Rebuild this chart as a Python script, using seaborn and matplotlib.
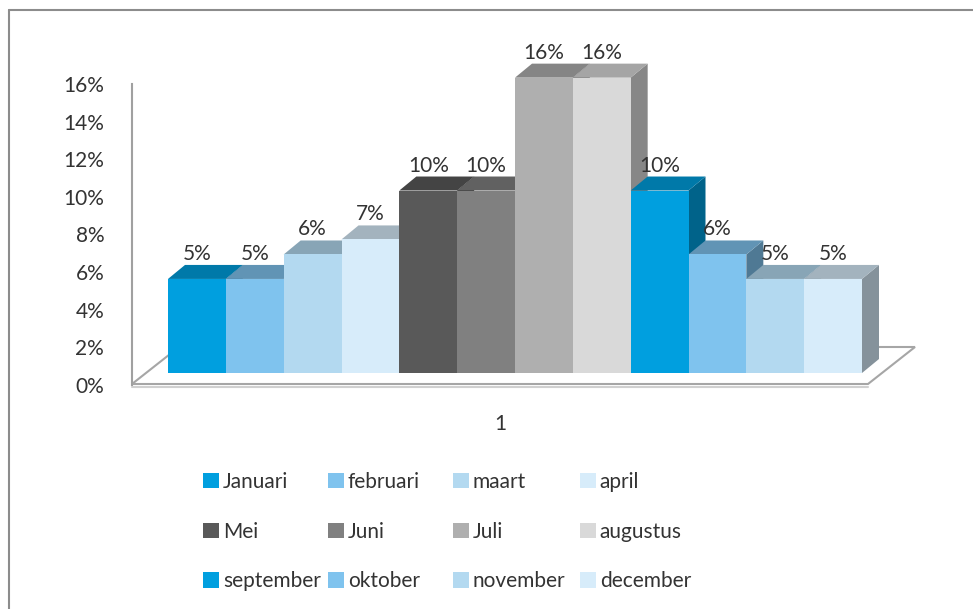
import matplotlib.colors as mcolors
import matplotlib.pyplot as plt
import pandas as pd
import seaborn as sns
from matplotlib.lines import Line2D
from matplotlib.patches import Polygon

# Data
months = [
    "Januari", "februari", "maart", "april",
    "Mei", "Juni", "Juli", "augustus",
    "september", "oktober", "november", "december",
]
values = [5.0, 5.0, 6.3, 7.1, 9.7, 9.7, 15.7, 15.7, 9.7, 6.3, 5.0, 5.0]
colors = [
    "#009FDF", "#7FC3EE", "#B3D9F0", "#D7ECFA",
    "#595959", "#808080", "#AFAFAF", "#D9D9D9",
    "#009FDF", "#7FC3EE", "#B3D9F0", "#D7ECFA",
]
category = ["1"]
y_ticks = [0, 2, 4, 6, 8, 10, 12, 14, 16]

df = pd.DataFrame({"cat": category * len(months), "month": months, "value": values})

W, H = 973, 609


def fx(x):
    return x / W


def fy(y):
    return 1 - y / H


def shade(c, f):
    r, g, b = mcolors.to_rgb(c)
    return (r * f, g * f, b * f)


sns.set_theme(style="white")
plt.rcParams["font.family"] = ["Lato", "DejaVu Sans"]
FS = 15
TXT = "#333333"

fig = plt.figure(figsize=(W / 100, H / 100), dpi=100)

# back wall axis: tick labels, vertical line, category label
ax_wall = fig.add_axes([fx(132), fy(385), fx(868) - fx(132), fy(84) - fy(385)])
ax_wall.set_ylim(0, 16)
ax_wall.set_xlim(0, 1)
ax_wall.set_yticks(y_ticks, [f"{t}%" for t in y_ticks])
ax_wall.set_xticks([0.5], category)
ax_wall.tick_params(axis="y", length=0, pad=20, labelsize=FS, labelcolor=TXT)
ax_wall.tick_params(axis="x", length=0, pad=21, labelsize=FS, labelcolor=TXT)
for s in ["top", "right", "bottom"]:
    ax_wall.spines[s].set_visible(False)
ax_wall.spines["left"].set_color("#A0A0A0")
ax_wall.spines["left"].set_linewidth(1.5)
ax_wall.patch.set_alpha(0)

# floor
floor = Polygon(
    [(fx(132), fy(384)), (fx(868), fy(384)), (fx(915), fy(347)), (fx(179), fy(347))],
    closed=True, facecolor="white", edgecolor="#A6A6A6", linewidth=1.5,
    transform=fig.transFigure, clip_on=False,
)
ax_wall.add_artist(floor)
ax_wall.add_artist(Line2D([fx(132), fx(868)], [fy(387), fy(387)], color="#D0D0D0",
                          linewidth=1.5, transform=fig.transFigure, clip_on=False))

# bars
ax = fig.add_axes([fx(168), fy(373), fx(862) - fx(168), fy(72) - fy(373)])
sns.barplot(
    data=df, x="cat", y="value", hue="month", hue_order=months,
    palette=colors, saturation=1, width=0.8, errorbar=None, linewidth=0, ax=ax,
)
handles, labels = ax.get_legend_handles_labels()
if ax.get_legend() is not None:
    ax.get_legend().remove()
ax.set_xlim(-0.4, 0.4)
ax.set_ylim(0, 16)
ax.axis("off")

ddx = 17 * 0.8 / ((fx(862) - fx(168)) * W)
ddy = 14 * 16 / ((fy(72) - fy(373)) * H)

bars = sorted([p for p in ax.patches if p.get_height() > 0], key=lambda p: p.get_x())
for i, (p, c) in enumerate(zip(bars, colors)):
    x0, w, h = p.get_x(), p.get_width(), p.get_height()
    z = 10 + 3 * i
    p.set_zorder(z + 2)
    p.set_clip_on(False)
    side = Polygon([(x0 + w, 0), (x0 + w, h), (x0 + w + ddx, h + ddy), (x0 + w + ddx, ddy)],
                   closed=True, facecolor=shade(c, 0.62), linewidth=0, zorder=z, clip_on=False)
    top = Polygon([(x0, h), (x0 + w, h), (x0 + w + ddx, h + ddy), (x0 + ddx, h + ddy)],
                  closed=True, facecolor=shade(c, 0.76), linewidth=0, zorder=z + 1, clip_on=False)
    ax.add_patch(side)
    ax.add_patch(top)
    ax.annotate(f"{h:.0f}%", (x0 + w / 2, h), xytext=(0, 19), textcoords="offset pixels",
                ha="center", va="baseline", fontsize=FS, color=TXT, zorder=100,
                annotation_clip=False)

# legend: four columns of three entries, row-wise reading order
col_x = [203, 328, 453, 580]
for k in range(4):
    idx = [k, k + 4, k + 8]
    fig.legend(
        [handles[j] for j in idx], [labels[j] for j in idx],
        loc="upper left", bbox_to_anchor=(fx(col_x[k]), fy(472)),
        frameon=False, fontsize=FS, labelcolor=TXT, borderpad=0, borderaxespad=0,
        handlelength=0.75, handleheight=0.75, handletextpad=0.2, labelspacing=1.42,
    )

# outer chart frame
fig.add_artist(Line2D([fx(8.5), fx(8.5)], [fy(9.5), 0], color="#8C8C8C", linewidth=1.5))
fig.add_artist(Line2D([fx(8.5), 1], [fy(9.5), fy(9.5)], color="#8C8C8C", linewidth=1.5))

fig.savefig("out.png", dpi=100, facecolor="white")
